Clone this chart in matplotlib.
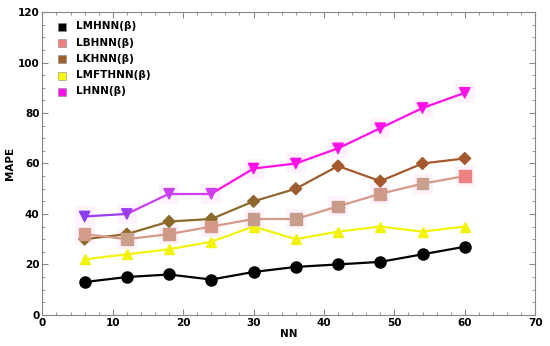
import numpy as np
import matplotlib.pyplot as plt
from matplotlib.ticker import MultipleLocator

nn = [6, 12, 18, 24, 30, 36, 42, 48, 54, 60]
lmhnn = [13, 15, 16, 14, 17, 19, 20, 21, 24, 27]
lbhnn = [32, 30, 32, 35, 38, 38, 43, 48, 52, 55]
lkhnn = [30, 32, 37, 38, 45, 50, 59, 53, 60, 62]
lmfthnn = [22, 24, 26, 29, 35, 30, 33, 35, 33, 35]
lhnn = [39, 40, 48, 48, 58, 60, 66, 74, 82, 88]

names = ['LMHNN(β)', 'LBHNN(β)', 'LKHNN(β)', 'LMFTHNN(β)', 'LHNN(β)']

fig, ax = plt.subplots(figsize=(5.5, 3.46), dpi=100)
fig.subplots_adjust(left=0.077, right=0.973, top=0.965, bottom=0.09)

# faint pink halos behind points (as in the original rendering)
for ys in [lbhnn, lhnn]:
    ax.scatter(nn, ys, s=200, marker='s', color='#fef2fc', zorder=1, linewidths=0)

ax.plot(nn, lmhnn, color='black', lw=1.6, marker='o', ms=8, zorder=3)
ax.plot(nn, lmfthnn, color='#f2f20a', lw=1.6, marker='^', ms=7, zorder=3)

# brown line: olive at the start, brown later
kcol = ['#8c6a2a', '#8c6a2a', '#8c6a2a', '#8c6a2a', '#8f6530', '#9a5c30', '#a5582d', '#a5582d', '#a5582d', '#a5582d']
for i in range(len(nn) - 1):
    ax.plot(nn[i:i + 2], lkhnn[i:i + 2], color=kcol[i], lw=1.6, zorder=3)
ax.scatter(nn, lkhnn, marker='D', s=36, color=kcol, zorder=4)

bcol = ['#d49a8a', '#c9a08a', '#d09a88', '#d39886', '#c89c8a', '#c89c8a', '#c99a88', '#d09a8a', '#c9a08e', '#ef8080']
ax.plot(nn, lbhnn, color='#d69a88', lw=1.6, zorder=3)
ax.scatter(nn, lbhnn, marker='s', s=70, color=bcol, zorder=4)

hcol = ['#8a3cf0', '#9a3ef0', '#c83ef0', '#d03ef0', '#ff10e8', '#ff10e8', '#ff10e8', '#ff10e8', '#ff10e8', '#ff10e8']
for i in range(len(nn) - 1):
    ax.plot(nn[i:i + 2], lhnn[i:i + 2], color=hcol[i + 1] if i < 3 else '#ff10e8', lw=1.6, zorder=3)
ax.scatter(nn, lhnn, marker='v', s=55, color=hcol, zorder=4)

# legend with square swatches
leg_cols = ['black', '#f08080', '#a0602e', '#f8f80a', '#ff10e8']
for name, c in zip(names, leg_cols):
    ax.scatter([], [], marker='s', s=40, color=c, edgecolors='#888888', linewidths=0.4, label=name)
ax.legend(loc='upper left', frameon=False, prop={'weight': 'bold', 'size': 7.5},
          handletextpad=0.3, labelspacing=0.6, borderaxespad=0.5, scatterpoints=1)

ax.set_xlim(0, 70)
ax.set_ylim(0, 120)
ax.xaxis.set_major_locator(MultipleLocator(10))
ax.xaxis.set_minor_locator(MultipleLocator(2))
ax.yaxis.set_major_locator(MultipleLocator(20))
ax.yaxis.set_minor_locator(MultipleLocator(5))
ax.tick_params(which='both', direction='in', top=True, right=True, color='#888888',
               labelsize=7.5, pad=2)
ax.tick_params(which='major', length=4)
ax.tick_params(which='minor', length=2)
for lab in ax.get_xticklabels() + ax.get_yticklabels():
    lab.set_fontweight('bold')
for sp in ax.spines.values():
    sp.set_color('#888888')

ax.set_xlabel('NN', fontsize=7.5, fontweight='bold', labelpad=1)
ax.set_ylabel('MAPE', fontsize=7.5, fontweight='bold', labelpad=2)

fig.savefig('out.png', dpi=100)
